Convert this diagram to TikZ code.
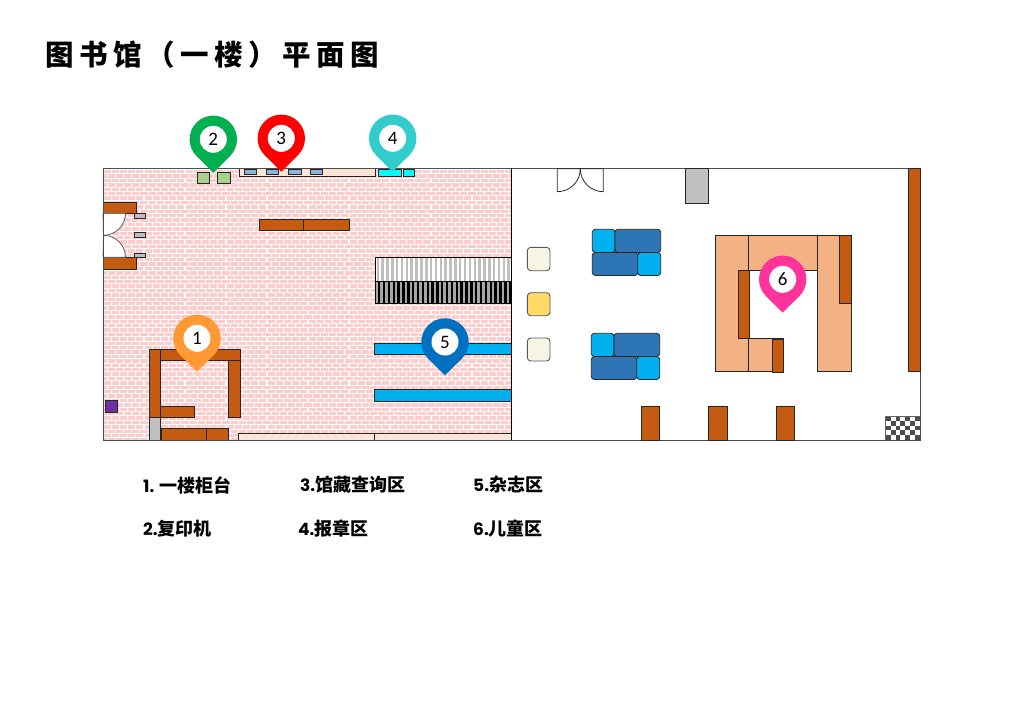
\documentclass[tikz,border=0pt]{standalone}
\usepackage{fontspec}
\newfontfamily\cjk{Noto Sans CJK SC}
\newfontfamily\cjktitle[LetterSpace=19]{Noto Sans CJK SC}
\newfontfamily\pinfont{Carlito}
\newfontfamily\numfont{Poppins}
\newcommand{\keycjk}{\cjk\fontsize{18}{18}\selectfont}
\definecolor{brickpink}{HTML}{FFCCCC}
\definecolor{counter}{HTML}{C55A11}
\definecolor{peach}{HTML}{F4B183}
\definecolor{strip}{HTML}{FBE5D6}
\definecolor{sofadark}{HTML}{2E75B6}
\definecolor{sofalight}{HTML}{00B0F0}
\definecolor{copier}{HTML}{A9D18E}
\definecolor{desk}{HTML}{8FB4DC}
\definecolor{paper}{HTML}{00FFFF}
\definecolor{padpale}{HTML}{F6F5E3}
\definecolor{padgold}{HTML}{FFD966}
\definecolor{bin}{HTML}{7030A0}
\definecolor{steel}{HTML}{BFBFBF}
\definecolor{pinone}{HTML}{FF9933}
\definecolor{pintwo}{HTML}{00B050}
\definecolor{pinthree}{HTML}{FF0000}
\definecolor{pinfour}{HTML}{33CCCC}
\definecolor{pinfive}{HTML}{0070C0}
\definecolor{pinsix}{HTML}{FF3399}
\tikzset{
    wall/.style={draw=black!70, line width=0.8pt},
    item/.style={draw=black!85, line width=0.8pt},
    counterbox/.style={item, fill=counter},
    childbox/.style={item, fill=peach},
    sofabox/.style={item, fill=#1, rounded corners=3pt},
    padbox/.style={draw=black!65, line width=0.9pt, fill=#1, rounded corners=3.5pt},
    keylabel/.style={anchor=west, inner sep=0pt, font=\fontsize{17}{17}\selectfont\bfseries}
}
\begin{document}
\begin{tikzpicture}[x=1pt, y=-1pt]
    \useasboundingbox (0, 0) rectangle (1024, 709);

    \node (title) [anchor=west, inner sep=0pt, font=\fontsize{28.5}{28.5}\selectfont\bfseries] at (45, 55) {\cjktitle 图书馆（一楼）平面图};

    \begin{scope}
        \clip (103, 168) rectangle (511, 440);
        \fill[brickpink] (103, 168) rectangle (511, 440);
        \foreach \row in {0,...,62} {
            \pgfmathsetmacro{\rowy}{169.5 + 4.4*\row}
            \pgfmathsetmacro{\rowx}{103 + 4.1*mod(\row,2)}
            \draw[white, line width=1.1pt] (103, \rowy) -- (511, \rowy);
            \foreach \col in {0,...,50} {
                \draw[white, line width=1.1pt] (\rowx + 8.2*\col, \rowy) -- (\rowx + 8.2*\col, \rowy + 4.4);
            }
        }
    \end{scope}

    % copiers and query desks
    \draw[item, fill=copier] (197.5, 172.3) rectangle (209.7, 183.7);
    \draw[item, fill=copier] (217.7, 172.3) rectangle (230, 183.7);
    \draw[item, fill=strip] (239.3, 168) rectangle (375.7, 176.7);
    \foreach \deskx in {244.3, 266.3, 288.7, 310.3} {
        \draw[item, fill=desk] (\deskx, 169.7) rectangle (\deskx + 12.4, 174.7);
    }
    \draw[item, fill=paper] (378.3, 169.3) rectangle (401.7, 176.7);
    \draw[item, fill=paper] (403.3, 169.3) rectangle (414.3, 176.7);

    % entrance
    \draw[counterbox] (103, 202.7) rectangle (136.7, 213.3);
    \draw[counterbox] (103, 257.3) rectangle (136.7, 269.3);
    \draw[draw=black!65, fill=white, line width=0.8pt] (103, 213.3) -- (125.5, 213.3) arc[start angle=0, end angle=90, radius=22] -- cycle;
    \draw[draw=black!65, fill=white, line width=0.8pt] (103, 257.3) -- (125.5, 257.3) arc[start angle=0, end angle=-90, radius=22] -- cycle;
    \foreach \gatey/\gateh in {213/5.3, 232.3/5.3, 253.3/4.3} {
        \draw[item, fill=steel] (134.3, \gatey) rectangle (145.7, \gatey + \gateh);
    }
    \draw[counterbox] (259.3, 219) rectangle (303.7, 230.7);
    \draw[counterbox] (303.7, 219) rectangle (349.3, 230.7);

    % stairs
    \fill[white] (375.5, 257) rectangle (511, 281);
    \fill[black!35] (375.5, 281) rectangle (511, 303.5);
    \foreach \stepx in {0,...,27} {
        \fill[steel] (376.5 + 4.85*\stepx, 257) rectangle (379 + 4.85*\stepx, 281);
        \fill[black] (378 + 4.85*\stepx, 281) rectangle (380.4 + 4.85*\stepx, 303.5);
    }
    \draw[black, line width=0.8pt] (511, 257) -- (375.5, 257) -- (375.5, 303.5) -- (511, 303.5);
    \draw[black, line width=0.8pt] (375.5, 281) -- (511, 281);

    % magazine shelves
    \draw[item, fill=sofalight] (374.5, 343.3) rectangle (511, 354.7);
    \draw[item, fill=sofalight] (374.5, 389.3) rectangle (511, 401);

    % front desk
    \draw[counterbox] (149.3, 349) rectangle (240, 360.7);
    \draw[counterbox] (149.3, 349) rectangle (160.3, 417);
    \draw[counterbox] (228, 360.7) rectangle (240, 417);
    \draw[counterbox] (160.3, 406.3) rectangle (194.7, 417);
    \draw[item, fill=steel] (149.3, 417) rectangle (160.3, 440);
    \draw[counterbox] (161, 428.7) rectangle (206.3, 440.3);
    \draw[counterbox] (206.3, 428.7) rectangle (228.7, 440.3);
    \draw[item, fill=bin] (105.7, 400.3) rectangle (117.7, 412.3);
    \draw[item, fill=strip] (238.7, 433.7) rectangle (374.5, 440);
    \draw[item, fill=strip] (374.5, 433.7) rectangle (511, 440);

    % room outline
    \draw[wall] (103, 168) rectangle (920, 440);
    \draw[black, line width=0.8pt] (511, 168) -- (511, 440);

    % north door
    \draw[draw=black!85, line width=0.8pt] (557.3, 168.7) -- (557.3, 191.7) arc[start angle=90, end angle=0, radius=23] -- cycle;
    \draw[draw=black!85, line width=0.8pt] (603.3, 168.7) -- (603.3, 191.7) arc[start angle=90, end angle=180, radius=23] -- cycle;
    \draw[item, fill=steel] (685.7, 168.7) rectangle (708.3, 203.3);

    % seats
    \foreach \sofax/\sofay in {592.3/229.3, 591.3/333.3} {
        \begin{scope}[shift={(\sofax, \sofay)}]
            \draw[sofabox=sofalight] (0, 0) rectangle (22.7, 23.2);
            \draw[sofabox=sofadark] (22.7, 0) rectangle (68.4, 23.2);
            \draw[sofabox=sofadark] (0, 23.2) rectangle (45.4, 46.2);
            \draw[sofabox=sofalight] (45.4, 23.2) rectangle (68.4, 46.2);
        \end{scope}
    }
    \draw[padbox=padpale] (527.3, 247.3) rectangle (550, 270.7);
    \draw[padbox=padgold] (527.3, 292.7) rectangle (550, 315.7);
    \draw[padbox=padpale] (527.3, 338) rectangle (550, 361);

    % columns and children corner
    \foreach \colx/\colw in {641.3/18.4, 708.3/18.7, 776.3/18} {
        \draw[counterbox] (\colx, 406.3) rectangle (\colx + \colw, 440.3);
    }
    \draw[counterbox] (908.3, 168) rectangle (920, 371.7);
    \draw[childbox] (715.3, 235.7) rectangle (748.7, 371.7);
    \draw[childbox] (748.7, 235.7) rectangle (817.3, 270);
    \draw[childbox] (817.3, 235.7) rectangle (851.3, 371.7);
    \draw[childbox] (748.7, 338.3) rectangle (783.3, 371.7);
    \draw[counterbox] (738, 270) rectangle (749.7, 338.3);
    \draw[counterbox] (839.3, 235.7) rectangle (851.3, 303.7);
    \draw[counterbox] (772.3, 339) rectangle (783.7, 372.7);

    % floor mat
    \fill[white] (885.7, 416.7) rectangle (920, 439.5);
    \foreach \matx in {0,...,6} {
        \foreach \maty in {0,...,4} {
            \pgfmathparse{int(mod(\matx + \maty, 2))}
            \ifnum\pgfmathresult=0
                \fill[black!70] (885.7 + 4.9*\matx, 416.7 + 4.56*\maty) rectangle ++(4.9, 4.56);
            \fi
        }
    }
    \draw[black!60, line width=0.6pt] (885.7, 439.5) -- (885.7, 416.7) -- (920, 416.7);

    % location pins
    \foreach \pinname/\pinx/\piny/\pincolor in {1/197/338.3/pinone, 2/213.3/139.3/pintwo, 3/281.3/138.3/pinthree, 4/392.7/138.3/pinfour, 5/445/342/pinfive, 6/782.7/279.3/pinsix} {
        \fill[\pincolor] (\pinx, \piny + 33.4) -- ([shift={(\pinx, \piny)}] 45:23.7) arc[start angle=45, end angle=-225, radius=23.7] -- cycle;
        \node (pin\pinname) [circle, fill=white, inner sep=0pt, minimum size=27pt, font=\pinfont\fontsize{19}{19}\selectfont] at (\pinx, \piny) {\pinname};
    }

    \node (key1) [keylabel] at (143, 485) {\numfont 1. \keycjk 一楼柜台};
    \node (key2) [keylabel] at (143, 529) {\numfont 2.\keycjk 复印机};
    \node (key3) [keylabel] at (300, 485) {\numfont 3.\keycjk 馆藏查询区};
    \node (key4) [keylabel] at (298, 529) {\numfont 4.\keycjk 报章区};
    \node (key5) [keylabel] at (473, 485) {\numfont 5.\keycjk 杂志区};
    \node (key6) [keylabel] at (473, 529) {\numfont 6.\keycjk 儿童区};
\end{tikzpicture}
\end{document}
